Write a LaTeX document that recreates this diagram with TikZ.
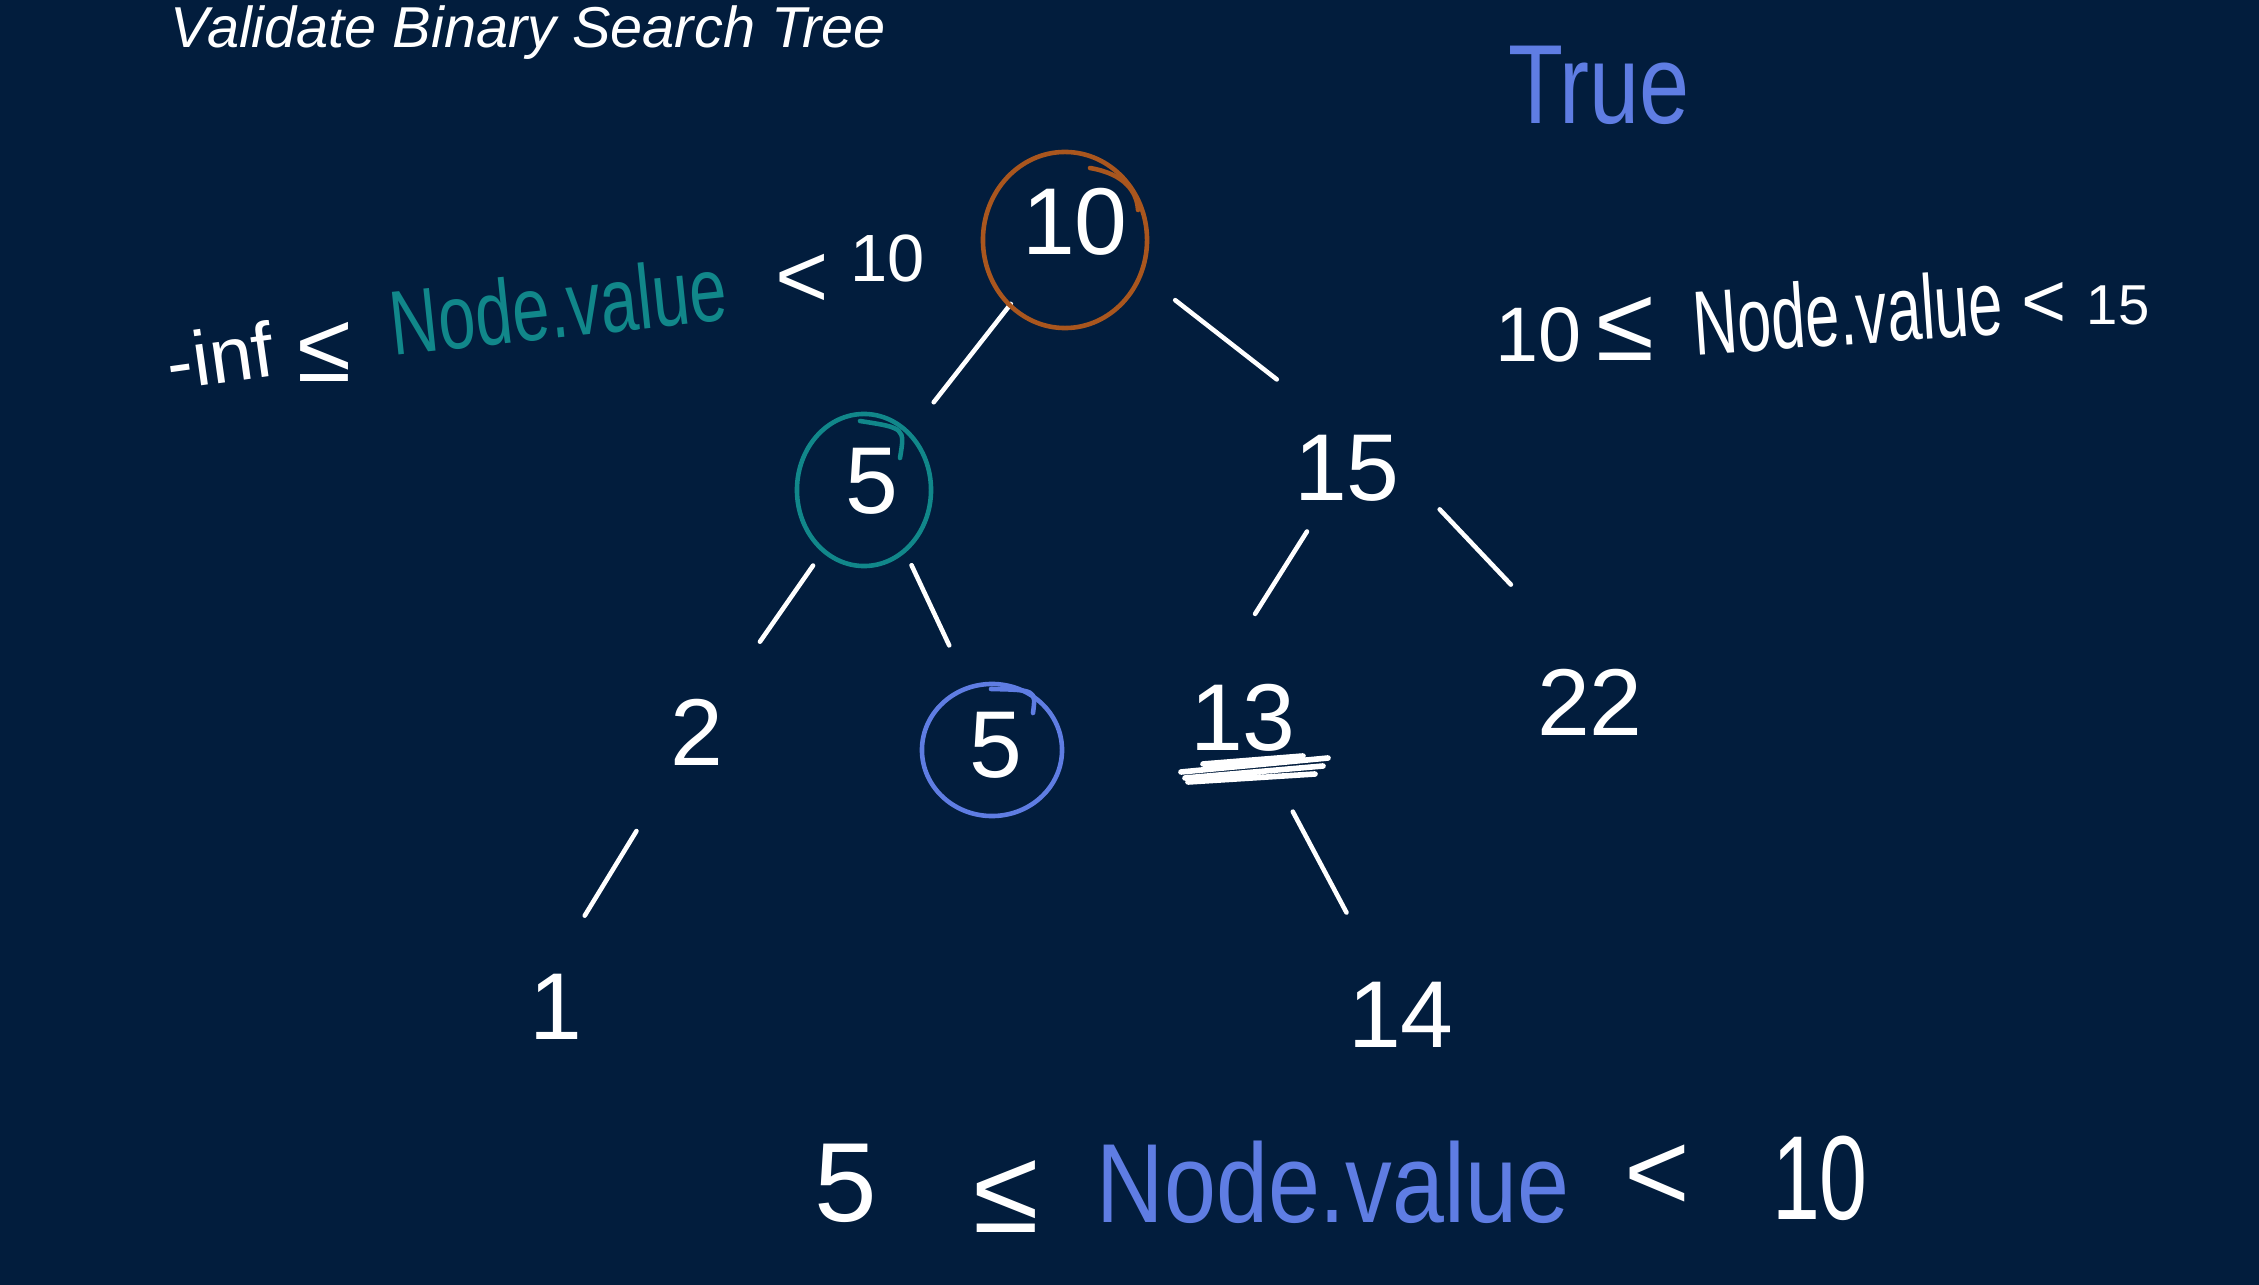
\documentclass[tikz,border=0pt]{standalone}
\usepackage{fontspec}
\setmainfont{Liberation Sans}
\usetikzlibrary{positioning}
\definecolor{vbbg}{HTML}{021D3D}
\definecolor{vborange}{HTML}{A9561E}
\definecolor{vbteal}{HTML}{11878A}
\definecolor{vbblue}{HTML}{5F7DE3}
\newcommand{\hw}[1]{\fontsize{#1}{#1}\selectfont}

\begin{document}
\begin{tikzpicture}[x=0.01cm,y=-0.01cm,
  val/.style={text=white,inner sep=0pt,font=\hw{27}},
  hand/.style={text=white,inner sep=0pt},
  edge/.style={draw=white,line width=1.3pt,line cap=round},
  ring/.style={line width=1.3pt,line cap=round}]
\fill[vbbg] (0,0) rectangle (2259,1285);
\node[anchor=base west,inner sep=0pt,text=white,font=\hw{16.4}\itshape] (title) at (170,48) {Validate Binary Search Tree};
\node[hand,text=vbblue,font=\hw{32},xscale=0.8,transform shape] (result) at (1599,85) {True};
% tree
\node[val] (n10) at (1075,222) {10};
\node[val] (n5a) at (872,481) {5};
\node[val] (n15) at (1347,468) {15};
\node[val] (n2) at (697,732) {2};
\node[val] (n5b) at (996,745) {5};
\node[val] (n13) at (1243,718) {13};
\node[val] (n22) at (1590,702) {22};
\node[val] (n1) at (556,1007) {1};
\node[val] (n14) at (1401,1015) {14};
\draw[edge,shorten <=1.04cm,shorten >=1.0cm] (n10.center) -- (n5a.center);
\draw[edge,shorten <=1.27cm,shorten >=0.89cm] (n10.center) -- (n15.north);
\draw[edge,shorten <=1.03cm,shorten >=1.1cm] (n5a.center) -- (n2.center);
\draw[edge,shorten <=0.93cm,shorten >=1.1cm] (n5a.center) -- (n5b.center);
\draw[edge,shorten <=0.75cm,shorten >=1.23cm] (n15.center) -- (n13.west);
\draw[edge,shorten <=0.57cm,shorten >=1.15cm] (n15.east) -- (n22.north);
\draw[edge,shorten <=1.16cm,shorten >=1.07cm] (n2.center) -- (n1.west);
\draw[edge,shorten <=1.06cm,shorten >=1.16cm] (n13.center) -- (n14.center);
% marks on the tree
\draw[ring,vborange] ([shift={(-10,18)}]n10.center) ellipse [x radius=0.82cm,y radius=0.88cm];
\draw[ring,vborange] ([shift={(15,-54)}]n10.center) .. controls ([shift={(50,-48)}]n10.center) and ([shift={(62,-30)}]n10.center) .. ([shift={(63,-12)}]n10.center);
\draw[ring,vbteal] ([shift={(-8,9)}]n5a.center) ellipse [x radius=0.67cm,y radius=0.76cm];
\draw[ring,vbteal] ([shift={(-12,-60)}]n5a.center) .. controls ([shift={(33,-53)}]n5a.center) .. ([shift={(28,-23)}]n5a.center);
\draw[ring,vbblue] ([shift={(-4,5)}]n5b.center) ellipse [x radius=0.7cm,y radius=0.66cm];
\draw[ring,vbblue] ([shift={(-5,-56)}]n5b.center) .. controls ([shift={(40,-55)}]n5b.center) .. ([shift={(37,-32)}]n5b.center);
\draw[edge,line width=1.6pt] ([shift={(-62,54)}]n13.center) -- ([shift={(85,40)}]n13.center)
  ([shift={(-58,60)}]n13.center) -- ([shift={(80,48)}]n13.center)
  ([shift={(-55,64)}]n13.center) -- ([shift={(72,56)}]n13.center)
  ([shift={(-40,46)}]n13.center) -- ([shift={(60,38)}]n13.center);
% left range
\node[hand,font=\hw{22},rotate=8,transform shape] (lominf) at (220,355) {-inf};
\node[hand,font=\hw{28}] (lole) at (325,352) {≤};
\node[hand,text=vbteal,font=\hw{26},rotate=6,xscale=0.73,transform shape] (lonode) at (558,305) {Node.value};
\node[hand,font=\hw{26}] (lolt) at (802,281) {<};
\node[hand,font=\hw{19}] (lohi) at (888,258) {10};
% right range
\node[hand,font=\hw{22}] (rilo) at (1539,335) {10};
\node[hand,font=\hw{30}] (rile) at (1625,329) {≤};
\node[hand,font=\hw{26},rotate=4,xscale=0.67,transform shape] (rinode) at (1848,312) {Node.value};
\node[hand,font=\hw{22}] (rilt) at (2044,305) {<};
\node[hand,font=\hw{16}] (rihi) at (2118,305) {15};
% bottom range
\node[hand,font=\hw{32}] (bolo) at (846,1183) {5};
\node[hand,font=\hw{34}] (bole) at (1006,1197) {≤};
\node[hand,text=vbblue,font=\hw{32},xscale=0.83,transform shape] (bonode) at (1333,1182) {Node.value};
\node[hand,font=\hw{32}] (bolt) at (1657,1178) {<};
\node[hand,font=\hw{34},xscale=0.72,transform shape] (bohi) at (1820,1178) {10};
\end{tikzpicture}
\end{document}
